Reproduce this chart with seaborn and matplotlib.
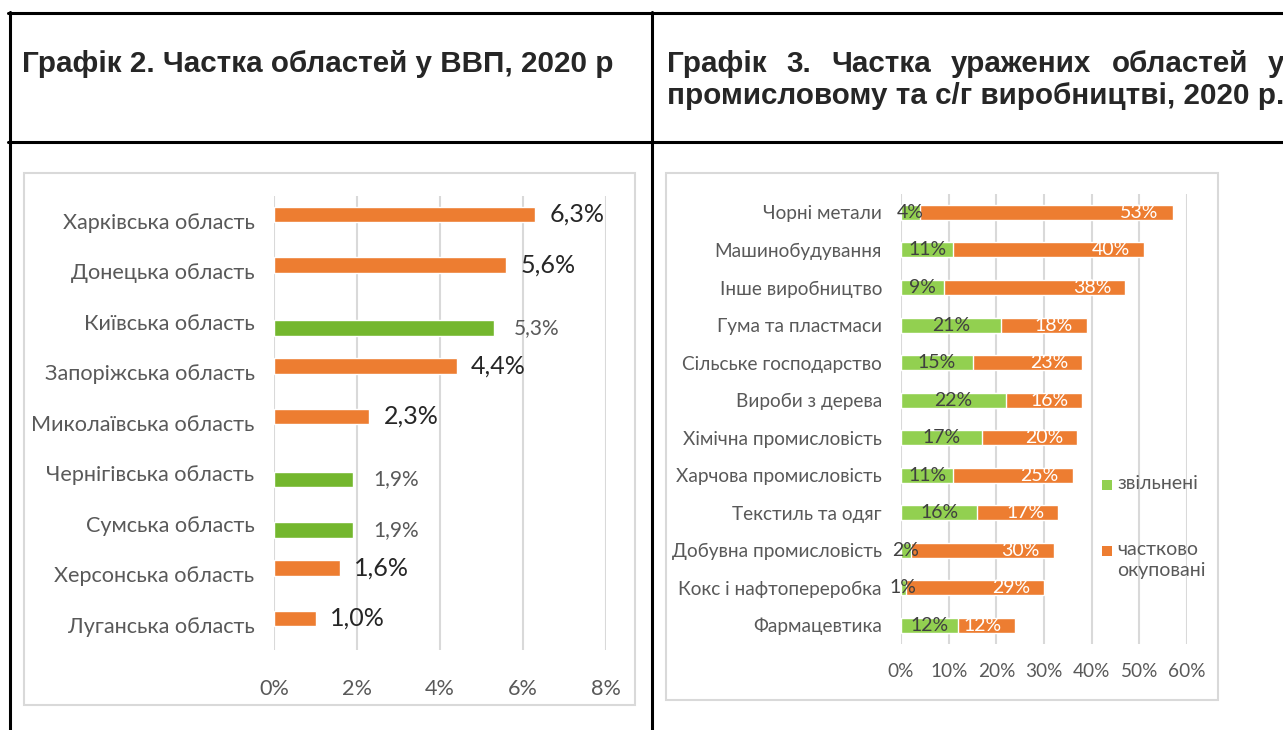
import numpy as np
import pandas as pd
import seaborn as sns
import matplotlib.pyplot as plt
from matplotlib.lines import Line2D
from matplotlib.patches import Rectangle
from matplotlib.ticker import FuncFormatter

# --- chart 2: regional share of GDP, 2020
regions = ['Харківська область', 'Донецька область', 'Київська область',
           'Запоріжська область', 'Миколаївська область', 'Чернігівська область',
           'Сумська область', 'Херсонська область', 'Луганська область']
gdp_share = [6.3, 5.6, 5.3, 4.4, 2.3, 1.9, 1.9, 1.6, 1.0]
region_status = ['уражена', 'уражена', 'звільнена', 'уражена', 'уражена',
                 'звільнена', 'звільнена', 'уражена', 'уражена']
status_order = ['уражена', 'звільнена']

# --- chart 3: affected regions in industry and agriculture, 2020
industries = ['Чорні метали', 'Машинобудування', 'Інше виробництво',
              'Гума та пластмаси', 'Сільське господарство', 'Вироби з дерева',
              'Хімічна промисловість', 'Харчова промисловість', 'Текстиль та одяг',
              'Добувна промисловість', 'Кокс і нафтопереробка', 'Фармацевтика']
liberated = [4, 11, 9, 21, 15, 22, 17, 11, 16, 2, 1, 12]
occupied = [53, 40, 38, 18, 23, 16, 20, 25, 17, 30, 29, 12]
legend_labels = ['звільнені', 'частково\nокуповані']

title2 = 'Графік 2. Частка областей у ВВП, 2020 р'
title3_line1 = ['Графік', '3.', 'Частка', 'уражених', 'областей', 'у']
title3_line2 = 'промисловому та с/г виробництві, 2020 р.'

ORANGE = '#ED7D31'
GREEN = '#74B72E'
LIGHT_GREEN = '#92D050'
GRID = '#D9D9D9'
TEXT = '#595959'

W, H = 1283, 730


def fx(x):
    return x / W


def fy(y):
    return 1 - y / H


sns.set_style('white')
plt.rcParams['font.family'] = ['Lato', 'Open Sans', 'DejaVu Sans']

fig = plt.figure(figsize=(W / 100, H / 100), dpi=100)

#
# table frame
#
lw_table = 2.2
for (x0, y0, x1, y1) in [(8, 13, W, 13), (8, 142, W, 142),
                         (9.5, 12, 9.5, H), (652, 12, 652, H)]:
    fig.add_artist(Line2D([fx(x0), fx(x1)], [fy(y0), fy(y1)],
                          transform=fig.transFigure, color='black', lw=lw_table))

for (x0, y0, x1, y1) in [(24, 173, 635, 705), (666, 173, 1218, 700)]:
    fig.add_artist(Rectangle((fx(x0), fy(y1)), (x1 - x0) / W, (y1 - y0) / H,
                             transform=fig.transFigure, fill=False,
                             ec=GRID, lw=1.5))

#
# titles
#
TITLE_SIZE = 21.3
fig.text(fx(22), fy(64), title2, fontsize=TITLE_SIZE, fontweight='bold',
         family='Liberation Sans', va='center')

renderer = fig.canvas.get_renderer()
line2 = fig.text(fx(667), fy(96), title3_line2, fontsize=TITLE_SIZE,
                 fontweight='bold', family='Liberation Sans', va='center')
target = line2.get_window_extent(renderer).width
words = [fig.text(0, fy(64), w, fontsize=TITLE_SIZE, fontweight='bold',
                  family='Liberation Sans', va='center') for w in title3_line1]
widths = [t.get_window_extent(renderer).width for t in words]
gap = (target - sum(widths)) / (len(words) - 1)
x = 667
for t, w in zip(words, widths):
    t.set_x(fx(x))
    x += w + gap

#
# chart 2
#
df2 = pd.DataFrame({'region': regions, 'share': gdp_share, 'status': region_status})
ax1 = fig.add_axes([fx(274), fy(650), (606 - 274) / W, (650 - 195.5) / H])
sns.barplot(data=df2, x='share', y='region', hue='status', hue_order=status_order,
            palette=[ORANGE, GREEN], orient='h', width=0.5, dodge=True,
            saturation=1, legend=False, ax=ax1)

for container in ax1.containers:
    for p in container:
        c = p.get_y() + p.get_height() / 2
        p.set_height(0.3)
        p.set_y(c - 0.15)
        v = p.get_width()
        if not np.isfinite(v) or v <= 0:
            continue
        is_orange = np.allclose(p.get_facecolor()[:3],
                                plt.matplotlib.colors.to_rgb(ORANGE), atol=0.02)
        ax1.annotate(f'{v:.1f}'.replace('.', ',') + '%', xy=(v, c),
                     xytext=(14 if is_orange else 20, 0),
                     textcoords='offset pixels', va='center',
                     ha='left', fontsize=18 if is_orange else 15,
                     color='#262626' if is_orange else TEXT)

ax1.set_xlim(0, 8)
ax1.set_ylim(len(regions) - 0.5, -0.5)
ax1.set_xticks(range(0, 9, 2))
ax1.xaxis.set_major_formatter(FuncFormatter(lambda v, pos: f'{v:.0f}%'))
ax1.xaxis.grid(True, color=GRID, lw=1.5)
ax1.set_axisbelow(True)
ax1.tick_params(axis='y', length=0, pad=14, labelsize=15.6, labelcolor=TEXT)
ax1.tick_params(axis='x', length=0, pad=21, labelsize=15.6, labelcolor=TEXT)
ax1.set_xlabel('')
ax1.set_ylabel('')
sns.despine(ax=ax1, left=True, bottom=True)

#
# chart 3
#
df3 = pd.DataFrame({'industry': industries, 'liberated': liberated, 'occupied': occupied})
df3['total'] = df3['liberated'] + df3['occupied']
ax2 = fig.add_axes([fx(901), fy(644), (1187 - 901) / W, (644 - 193.7) / H])
sns.barplot(data=df3, x='total', y='industry', color=ORANGE, saturation=1,
            width=0.4, orient='h', ax=ax2)
sns.barplot(data=df3, x='liberated', y='industry', color=LIGHT_GREEN, saturation=1,
            width=0.4, orient='h', ax=ax2)

for p, v in zip(ax2.containers[1], df3['liberated']):
    c = p.get_y() + p.get_height() / 2
    ax2.annotate(f'{v}%', xy=(v / 2, c), ha='center', va='center',
                 fontsize=14, color='#404040')
for p, v in zip(ax2.containers[0], df3['occupied']):
    c = p.get_y() + p.get_height() / 2
    ax2.annotate(f'{v}%', xy=(p.get_width(), c), xytext=(-14, 0),
                 textcoords='offset pixels', ha='right', va='center',
                 fontsize=14, color='white')

ax2.set_xlim(0, 60)
ax2.set_ylim(len(industries) - 0.5, -0.5)
ax2.set_xticks(range(0, 61, 10))
ax2.xaxis.set_major_formatter(FuncFormatter(lambda v, pos: f'{v:.0f}%'))
ax2.xaxis.grid(True, color=GRID, lw=1.5)
ax2.set_axisbelow(True)
ax2.tick_params(axis='y', length=0, pad=13.7, labelsize=13.7, labelcolor=TEXT)
ax2.tick_params(axis='x', length=0, pad=14, labelsize=13.7, labelcolor=TEXT)
ax2.set_xlabel('')
ax2.set_ylabel('')
sns.despine(ax=ax2, left=True, bottom=True)

# legend
for (yc, colour, label) in [(485, LIGHT_GREEN, legend_labels[0]),
                            (551, ORANGE, legend_labels[1])]:
    fig.add_artist(Rectangle((fx(1102), fy(yc + 5)), 10 / W, 10 / H,
                             transform=fig.transFigure, color=colour, lw=0))
    fig.text(fx(1117), fy(yc - 10), label, fontsize=14, color=TEXT,
             va='top', ha='left', linespacing=1.3)

fig.savefig('out.png', dpi=100)
